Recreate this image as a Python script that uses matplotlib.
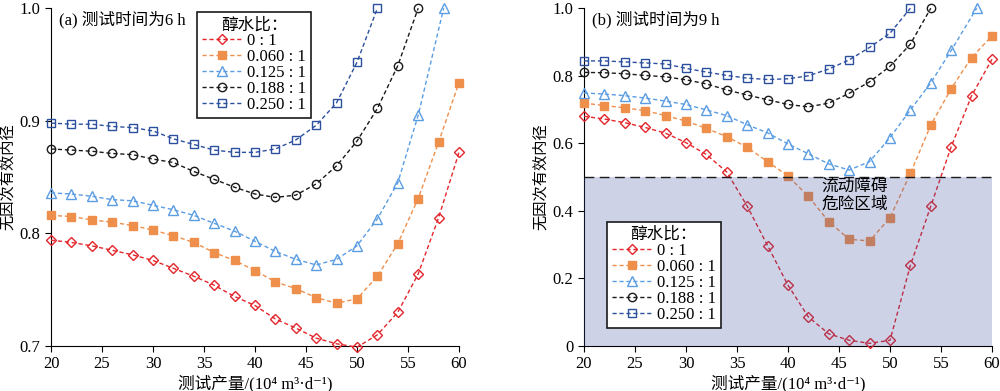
import numpy as np
import matplotlib
matplotlib.use("Agg")
import matplotlib.pyplot as plt

plt.rcParams['font.family'] = ['Liberation Serif', 'Noto Sans CJK SC', 'DejaVu Sans']
plt.rcParams['font.size'] = 11

# 测试产量 (x)
q = [20, 22, 24, 26, 28, 30, 32, 34, 36, 38, 40, 42, 44, 46, 48, 50, 52, 54, 56, 58, 60]

labels = ['0 : 1', '0.060 : 1', '0.125 : 1', '0.188 : 1', '0.250 : 1']

# (a) 6 h
a_r0 = [0.794, 0.792, 0.789, 0.785, 0.781, 0.776, 0.769, 0.762, 0.754, 0.744, 0.736,
        0.724, 0.716, 0.707, 0.702, 0.699, 0.710, 0.730, 0.764, 0.814, 0.872]
a_r060 = [0.816, 0.815, 0.812, 0.810, 0.807, 0.803, 0.798, 0.792, 0.783, 0.776, 0.767,
          0.757, 0.751, 0.743, 0.738, 0.742, 0.762, 0.791, 0.831, 0.881, 0.934]
a_x125 = q[:19] + [58.5]
a_r125 = [0.836, 0.835, 0.833, 0.830, 0.829, 0.825, 0.821, 0.816, 0.809, 0.802, 0.793,
          0.784, 0.777, 0.772, 0.777, 0.789, 0.813, 0.845, 0.905, 1.0]
a_x188 = q[:19]
a_r188 = [0.875, 0.874, 0.873, 0.871, 0.870, 0.866, 0.863, 0.855, 0.848, 0.841, 0.835,
          0.832, 0.834, 0.844, 0.860, 0.882, 0.911, 0.949, 1.0]
a_x250 = q[:17]
a_r250 = [0.898, 0.897, 0.897, 0.895, 0.894, 0.891, 0.884, 0.879, 0.874, 0.872, 0.872,
          0.875, 0.883, 0.896, 0.916, 0.952, 1.0]

# (b) 9 h
b_r0 = [0.680, 0.672, 0.661, 0.647, 0.630, 0.602, 0.567, 0.515, 0.414, 0.297, 0.180,
        0.086, 0.036, 0.017, 0.008, 0.017, 0.239, 0.414, 0.590, 0.741, 0.849]
b_r060 = [0.719, 0.712, 0.705, 0.697, 0.682, 0.666, 0.644, 0.620, 0.588, 0.546, 0.503,
          0.443, 0.368, 0.316, 0.311, 0.380, 0.511, 0.654, 0.762, 0.854, 0.918]
b_x125 = q[:19] + [58.5]
b_r125 = [0.749, 0.746, 0.741, 0.734, 0.725, 0.715, 0.699, 0.682, 0.655, 0.631, 0.598,
          0.569, 0.539, 0.521, 0.546, 0.617, 0.699, 0.779, 0.875, 1.0]
b_x188 = q[:18]
b_r188 = [0.810, 0.809, 0.806, 0.801, 0.797, 0.788, 0.776, 0.758, 0.743, 0.729, 0.715,
          0.708, 0.719, 0.748, 0.782, 0.828, 0.894, 1.0]
b_x250 = q[:17]
b_r250 = [0.844, 0.844, 0.841, 0.838, 0.835, 0.822, 0.811, 0.801, 0.793, 0.789, 0.791,
          0.800, 0.820, 0.847, 0.884, 0.926, 1.0]

colors = ['#e3262b', '#ef8f4c', '#5b9de3', '#1a1a1a', '#2c4f9e']
markers = ['D', 's', '^', 'o', 's']
msizes = [5, 6, 6.5, 6, 6]
filled = [False, True, False, False, False]

fig = plt.figure(figsize=(10, 3.91), dpi=100)
axa = fig.add_axes([0.051, 0.115, 0.408, 0.864])
axb = fig.add_axes([0.584, 0.115, 0.408, 0.864])


def draw(ax, xs, ys):
    for i in range(5):
        mfc = colors[i] if filled[i] else 'none'
        ax.plot(xs[i], ys[i], linestyle=(0, (3, 2)), color=colors[i], lw=1.0,
                marker=markers[i], ms=msizes[i], mfc=mfc, mec=colors[i], mew=1.0,
                label=labels[i], clip_on=False, zorder=3)


draw(axa, [q, q, a_x125, a_x188, a_x250], [a_r0, a_r060, a_r125, a_r188, a_r250])
draw(axb, [q, q, b_x125, b_x188, b_x250], [b_r0, b_r060, b_r125, b_r188, b_r250])

for ax in (axa, axb):
    ax.spines['top'].set_visible(False)
    ax.spines['right'].set_visible(False)
    ax.set_xlim(20, 60)
    ax.set_xticks([20, 25, 30, 35, 40, 45, 50, 55, 60])
    ax.tick_params(direction='out', length=4, width=0.8, labelsize=12)
    ax.set_xlabel('测试产量/(10⁴ m³·d⁻¹)', fontsize=12, labelpad=2)
    ax.set_ylabel('无因次有效内径', fontsize=11, labelpad=3)

axa.set_ylim(0.7, 1.0)
axa.set_yticks([0.7, 0.8, 0.9, 1.0])
axa.set_yticklabels(['0.7', '0.8', '0.9', '1.0'])
axb.set_ylim(0, 1.0)
axb.set_yticks([0, 0.2, 0.4, 0.6, 0.8, 1.0])
axb.set_yticklabels(['0', '0.2', '0.4', '0.6', '0.8', '1.0'])

axa.text(0.02, 0.965, '(a) 测试时间为6 h', transform=axa.transAxes, fontsize=12, va='center')
axb.text(0.02, 0.965, '(b) 测试时间为9 h', transform=axb.transAxes, fontsize=12, va='center')

# danger zone
axb.axhspan(0, 0.5, color='#3f4fa0', alpha=0.25, lw=0, zorder=4)
axb.axhline(0.5, color='#1a1a1a', lw=1.0, linestyle=(0, (7, 4)), zorder=5)
axb.text(46.5, 0.445, '流动障碍\n危险区域', ha='center', va='center', fontsize=12,
         linespacing=1.2, zorder=6)

for ax, loc, anchor in ((axa, 'upper left', (0.358, 0.988)), (axb, 'lower left', (0.056, 0.053))):
    leg = ax.legend(loc=loc, bbox_to_anchor=anchor, title='醇水比：', fontsize=12,
                    title_fontsize=12, handlelength=2.4, handletextpad=0.3,
                    labelspacing=0.0, borderpad=0.3, borderaxespad=0.0, fancybox=False,
                    framealpha=1, edgecolor='#1a1a1a')
    leg.get_frame().set_linewidth(1.2)
    leg.set_zorder(10)

fig.savefig('out.png', dpi=100)
